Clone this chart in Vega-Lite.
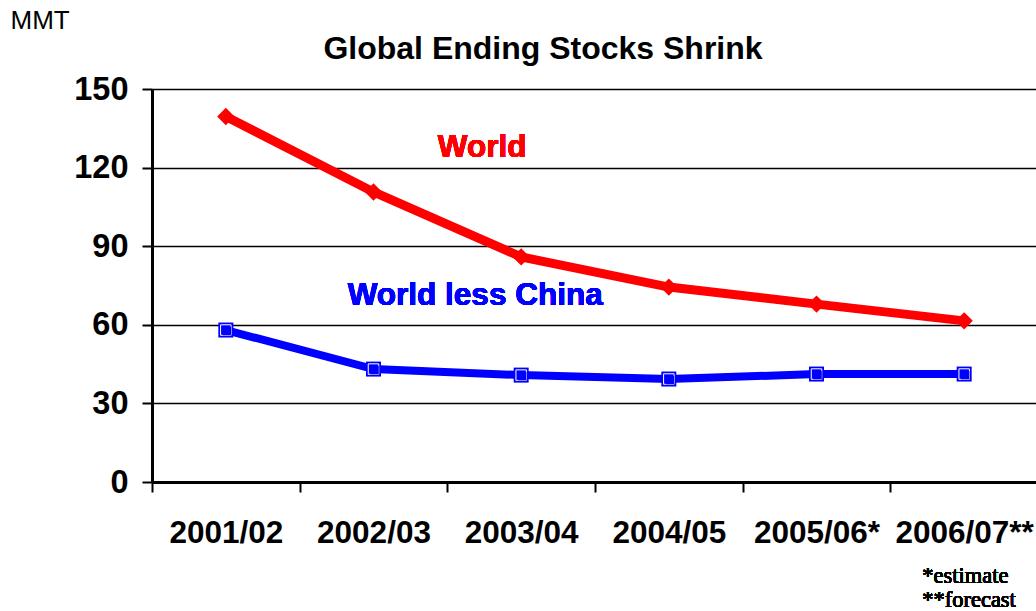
{
  "$schema": "https://vega.github.io/schema/vega-lite/v6.json",
  "autosize": "none",
  "padding": {"left": 152, "top": 89, "right": 0, "bottom": 129},
  "width": 886,
  "height": 393,
  "background": "white",
  "title": {
    "text": "Global Ending Stocks Shrink",
    "font": "Liberation Sans",
    "fontSize": 32,
    "fontWeight": "bold",
    "color": "black",
    "anchor": "middle",
    "baseline": "alphabetic",
    "offset": -84,
    "dx": -52
  },
  "config": {
    "view": {"stroke": null},
    "font": "Liberation Sans"
  },
  "data": {
    "values": [
      {"season": "2001/02", "series": "World", "value": 139.5},
      {"season": "2002/03", "series": "World", "value": 110.7},
      {"season": "2003/04", "series": "World", "value": 85.9},
      {"season": "2004/05", "series": "World", "value": 74.4},
      {"season": "2005/06*", "series": "World", "value": 67.9},
      {"season": "2006/07**", "series": "World", "value": 61.5},
      {"season": "2001/02", "series": "World less China", "value": 58.0},
      {"season": "2002/03", "series": "World less China", "value": 43.1},
      {"season": "2003/04", "series": "World less China", "value": 40.8},
      {"season": "2004/05", "series": "World less China", "value": 39.3},
      {"season": "2005/06*", "series": "World less China", "value": 41.2},
      {"season": "2006/07**", "series": "World less China", "value": 41.2}
    ]
  },
  "encoding": {
    "x": {
      "field": "season",
      "type": "nominal",
      "sort": null,
      "scale": {"paddingInner": 0, "paddingOuter": 0},
      "axis": {
        "title": null,
        "labelAngle": 0,
        "labelFont": "Liberation Sans",
        "labelFontSize": 31.5,
        "labelFontWeight": "bold",
        "labelColor": "black",
        "labelPadding": 25,
        "tickBand": "extent",
        "tickSize": 10,
        "tickWidth": 2,
        "tickColor": "black",
        "domainColor": "black",
        "domainWidth": 3,
        "grid": false
      }
    },
    "y": {
      "field": "value",
      "type": "quantitative",
      "scale": {"domain": [0, 150], "nice": false, "zero": true},
      "axis": {
        "values": [0, 30, 60, 90, 120, 150],
        "title": "MMT",
        "titleAngle": 0,
        "titleAlign": "left",
        "titleBaseline": "alphabetic",
        "titleX": -142,
        "titleY": -61,
        "titleFont": "Liberation Sans",
        "titleFontSize": 26,
        "titleFontWeight": "normal",
        "titleColor": "black",
        "labelFont": "Liberation Sans",
        "labelFontSize": 32.5,
        "labelFontWeight": "bold",
        "labelColor": "black",
        "labelPadding": 14,
        "tickSize": 10,
        "tickWidth": 2,
        "tickColor": "black",
        "domainColor": "black",
        "domainWidth": 3,
        "grid": true,
        "gridColor": "black",
        "gridWidth": 1.5,
        "gridOpacity": 1
      }
    }
  },
  "layer": [
    {
      "mark": {"type": "line"},
      "encoding": {
        "color": {
          "field": "series",
          "type": "nominal",
          "scale": {"domain": ["World", "World less China"], "range": ["#FF0000", "#0000FF"]},
          "legend": null
        },
        "strokeWidth": {
          "field": "series",
          "type": "nominal",
          "scale": {"domain": ["World", "World less China"], "range": [9, 8]},
          "legend": null
        }
      }
    },
    {
      "mark": {"type": "point", "filled": true, "opacity": 1},
      "encoding": {
        "color": {
          "field": "series",
          "type": "nominal",
          "scale": {"domain": ["World", "World less China"], "range": ["#FF0000", "#0000FF"]},
          "legend": null
        },
        "shape": {
          "field": "series",
          "type": "nominal",
          "scale": {"domain": ["World", "World less China"], "range": ["diamond", "square"]},
          "legend": null
        },
        "size": {
          "field": "series",
          "type": "nominal",
          "scale": {"domain": ["World", "World less China"], "range": [300, 225]},
          "legend": null
        }
      }
    },
    {
      "transform": [{"filter": "datum.series === 'World less China'"}],
      "mark": {"type": "point", "filled": false, "shape": "square", "size": 110, "stroke": "white", "strokeWidth": 1, "opacity": 1},
      "encoding": {}
    },
    {
      "transform": [{"filter": "datum.series === 'World less China'"}],
      "mark": {"type": "point", "filled": true, "shape": "square", "size": 72, "color": "#0000FF", "opacity": 1, "xOffset": 1, "yOffset": 1},
      "encoding": {}
    },
    {
      "mark": {"type": "text", "text": "World", "font": "Liberation Sans", "fontSize": 31.5, "fontWeight": "bold", "color": "#FF0000", "align": "center", "baseline": "alphabetic", "dx": -39},
      "encoding": {"x": {"datum": "2003/04"}, "y": {"datum": 124}}
    },
    {
      "mark": {"type": "text", "text": "World less China", "font": "Liberation Sans", "fontSize": 31.5, "fontWeight": "bold", "color": "#0000FF", "align": "center", "baseline": "alphabetic", "dx": -46},
      "encoding": {"x": {"datum": "2003/04"}, "y": {"datum": 67.6}}
    },
    {
      "mark": {"type": "text", "text": "*estimate", "font": "Liberation Serif", "fontSize": 22.5, "fontWeight": "normal", "color": "black", "align": "left", "baseline": "alphabetic", "dx": -42},
      "encoding": {"x": {"datum": "2006/07**"}, "y": {"datum": -38.5}}
    },
    {
      "mark": {"type": "text", "text": "**forecast", "font": "Liberation Serif", "fontSize": 22.5, "fontWeight": "normal", "color": "black", "align": "left", "baseline": "alphabetic", "dx": -42},
      "encoding": {"x": {"datum": "2006/07**"}, "y": {"datum": -47.7}}
    }
  ]
}
